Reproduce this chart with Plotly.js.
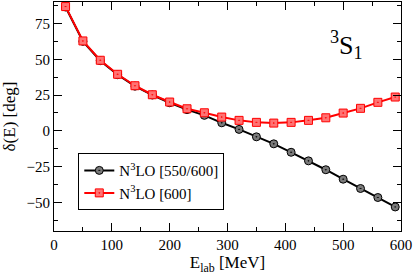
<!DOCTYPE html>
<html>
<head>
<meta charset="utf-8">
<script src="https://cdn.plot.ly/plotly-3.0.1.min.js"></script>
<style>
  html, body { margin: 0; padding: 0; background: #fff; }
  #chart { width: 415px; height: 275px; }
</style>
</head>
<body>
<div id="chart"></div>
<script>
// Lab energies (MeV), same grid for both curves
const energies = [20, 50, 80, 110, 140, 170, 200, 230, 260, 290, 320, 350, 380, 410, 440, 470, 500, 530, 560, 590];

// 3S1 phase shifts (deg)
const phaseN3LO550 = [86.5, 62.5, 49.0, 39.2, 31.2, 25.0, 19.6, 14.8, 10.8, 5.6, 1.0, -4.2, -9.1, -15.0, -21.0, -27.2, -33.8, -40.3, -46.6, -53.2];
const phaseN3LO600 = [86.8, 62.8, 49.3, 39.5, 31.5, 25.2, 20.1, 15.4, 12.6, 9.6, 7.3, 5.9, 5.4, 5.9, 7.3, 9.1, 12.4, 15.7, 19.9, 23.6];

const seriesNames = ['N<sup>3</sup>LO [550/600]', 'N<sup>3</sup>LO [600]'];
const xTicks = [0, 100, 200, 300, 400, 500, 600];
const yTicks = [-50, -25, 0, 25, 50, 75];

const serif = 'Liberation Serif';

const traces = [
  {
    x: energies,
    y: phaseN3LO550,
    mode: 'lines+markers',
    name: seriesNames[0],
    line: { color: '#000000', width: 2 },
    marker: { symbol: 'circle-dot', size: 8, color: '#7a7a7a', line: { color: '#000000', width: 1 } }
  },
  {
    x: energies,
    y: phaseN3LO600,
    mode: 'lines+markers',
    name: seriesNames[1],
    line: { color: '#ff0000', width: 2 },
    marker: { symbol: 'square-dot', size: 8, color: '#ff7373', line: { color: '#ff0000', width: 1 } }
  }
];

function axisStyle(ticks) {
  return {
    tickmode: 'array',
    tickvals: ticks,
    ticktext: ticks.map(t => (t < 0 ? '\u2212' + Math.abs(t) : String(t))),
    ticks: 'inside',
    ticklen: 8,
    tickwidth: 1,
    tickcolor: '#000',
    showline: true,
    linecolor: '#000',
    linewidth: 1,
    mirror: 'allticks',
    showgrid: false,
    zeroline: false,
    tickfont: { family: serif, size: 15, color: '#000' }
  };
}

const layout = {
  width: 415,
  height: 275,
  margin: { l: 54, r: 14, t: 2, b: 44 },
  paper_bgcolor: '#ffffff',
  plot_bgcolor: '#ffffff',
  font: { family: serif, size: 15, color: '#000' },
  xaxis: Object.assign(axisStyle(xTicks), {
    range: [0, 600],
    minor: { dtick: 50, ticks: 'inside', ticklen: 4, tickcolor: '#000', showgrid: false },
    title: { text: 'E<sub>lab</sub> [MeV]', font: { family: serif, size: 17 }, standoff: 4 }
  }),
  yaxis: Object.assign(axisStyle(yTicks), {
    range: [-70, 90],
    minor: { dtick: 12.5, ticks: 'inside', ticklen: 4, tickcolor: '#000', showgrid: false },
    title: { text: 'δ(E) [deg]', font: { family: serif, size: 17 }, standoff: 6 }
  }),
  legend: {
    x: 0.07, y: 0.34, xanchor: 'left', yanchor: 'top',
    bordercolor: '#000', borderwidth: 1, bgcolor: '#fff',
    font: { family: serif, size: 15 },
    tracegroupgap: 0
  },
  annotations: [
    {
      x: 505, y: 60, xref: 'x', yref: 'y',
      text: '<sup>3</sup>S<sub>1</sub>',
      showarrow: false,
      font: { family: serif, size: 26, color: '#000' }
    }
  ],
  showlegend: true
};

Plotly.newPlot('chart', traces, layout, { staticPlot: true, displayModeBar: false });
</script>
</body>
</html>
